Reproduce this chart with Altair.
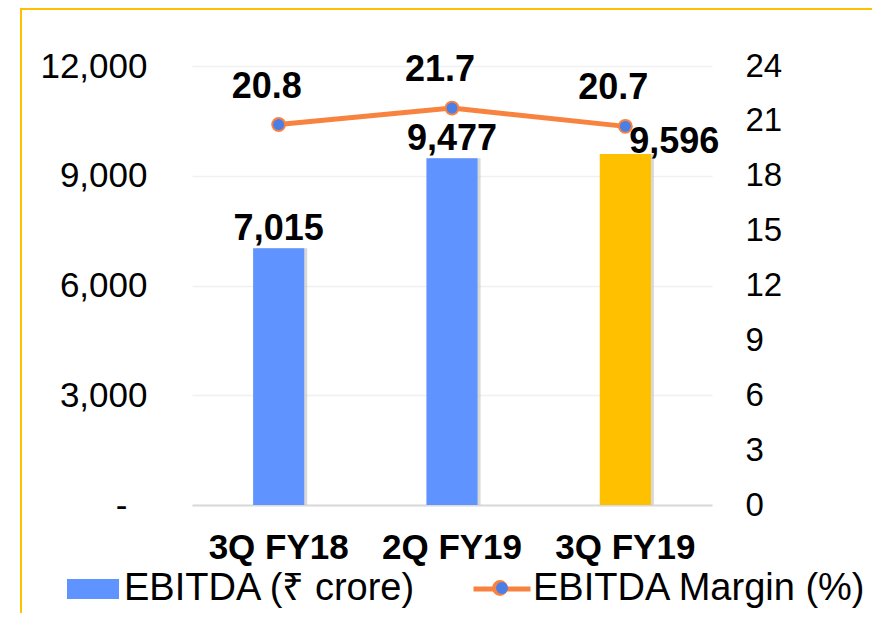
import altair as alt
import pandas as pd

categories = ["3Q FY18", "2Q FY19", "3Q FY19"]
ebitda = [7015, 9477, 9596]
margin = [20.8, 21.7, 20.7]
bar_series_name = "EBITDA (₹ crore)"
line_series_name = "EBITDA Margin (%)"
ring_series_name = "ring"
dot_series_name = "dot"
left_ticks = [0, 3000, 6000, 9000, 12000]
right_ticks = [0, 3, 6, 9, 12, 15, 18, 21, 24]
highlight = "3Q FY19"

BLUE = "#5F93FF"
YELLOW = "#FFC000"
ORANGE = "#F8823F"
DOT = "#4B7EE6"
FONT = "Liberation Sans"

df = pd.DataFrame({"cat": categories, "ebitda": ebitda, "margin": margin})
df["bar_series"] = bar_series_name
df["line_series"] = line_series_name
df["ring_series"] = ring_series_name
df["dot_series"] = dot_series_name

base = alt.Chart(df)

x = alt.X(
    "cat:N",
    sort=categories,
    scale=alt.Scale(paddingInner=0.705, paddingOuter=0.3525),
    axis=alt.Axis(
        title=None, labelAngle=0, labelFont=FONT, labelFontSize=35,
        labelFontWeight="bold", labelColor="black", labelPadding=25,
        ticks=False, domain=True, domainColor="#d9d9d9", domainWidth=2, grid=False,
    ),
)

y_left = alt.Y(
    "ebitda:Q",
    scale=alt.Scale(domain=[0, 12000], nice=False),
    axis=alt.Axis(
        title=None, values=left_ticks, orient="left",
        labelExpr="datum.value == 0 ? '-' : format(datum.value, ',')",
        labelFont=FONT, labelFontSize=35, labelColor="black",
        labelPadding=alt.condition("datum.value == 0", alt.value(65), alt.value(45)),
        ticks=False, domain=False, grid=True, gridColor="#f0f0f0", gridWidth=1.5,
    ),
)

y_right = alt.Y(
    "margin:Q",
    scale=alt.Scale(domain=[0, 24], nice=False),
    axis=alt.Axis(
        title=None, values=right_ticks, orient="right",
        labelFont=FONT, labelFontSize=33, labelColor="black", labelPadding=33,
        ticks=False, domain=False, grid=False,
    ),
)

shadow = base.mark_bar(color="#c8c8c8", opacity=0.7).encode(
    x=x, y=y_left, xOffset=alt.value(3)
)

bars = base.mark_bar().encode(
    x=x,
    y=y_left,
    color=alt.condition(
        f"datum.cat == '{highlight}'",
        alt.value(YELLOW),
        alt.Color(
            "bar_series:N",
            scale=alt.Scale(domain=[bar_series_name], range=[BLUE]),
            legend=alt.Legend(
                title=None, orient="none", legendX=-125, legendY=497,
                symbolType="M-1,-0.38H1V0.38H-1Z", symbolSize=2704,
                symbolStrokeWidth=0, labelFont=FONT, labelFontSize=38,
                labelColor="black", labelOffset=5, labelLimit=0, padding=0,
            ),
        ),
    ),
)

lab_bars = base.transform_filter(f"datum.cat != '{highlight}'").mark_text(
    font=FONT, fontSize=36, fontWeight="bold", baseline="alphabetic", dy=-8, color="black"
).encode(x=x, y=y_left, text=alt.Text("ebitda:Q", format=","))

lab_hi = base.transform_filter(f"datum.cat == '{highlight}'").mark_text(
    font=FONT, fontSize=36, fontWeight="bold", baseline="alphabetic", dx=49, dy=-1, color="black"
).encode(x=x, y=y_left, text=alt.Text("ebitda:Q", format=","))

line = base.mark_line(strokeWidth=5).encode(
    x=x,
    y=y_right,
    stroke=alt.Stroke(
        "line_series:N",
        scale=alt.Scale(domain=[line_series_name], range=[ORANGE]),
        legend=alt.Legend(
            title=None, orient="none", legendX=279, legendY=492,
            symbolType="stroke", symbolSize=3249, symbolStrokeWidth=5,
            labelFont=FONT, labelFontSize=38, labelColor="black",
            labelOffset=0, labelLimit=0, padding=0,
        ),
    ),
)

rings = base.mark_point(filled=True, size=220, fill=ORANGE, opacity=1).encode(
    x=x,
    y=y_right,
    shape=alt.Shape(
        "ring_series:N",
        scale=alt.Scale(domain=[ring_series_name], range=["circle"]),
        legend=alt.Legend(
            title=None, orient="none", legendX=290, legendY=504,
            symbolSize=250, symbolFillColor=ORANGE, symbolOpacity=1,
            labelFontSize=36, labelExpr="''", padding=0,
        ),
    ),
)

dots = base.mark_point(filled=True, size=120, fill=DOT, opacity=1).encode(
    x=x,
    y=y_right,
    shape=alt.Shape(
        "dot_series:N",
        scale=alt.Scale(domain=[dot_series_name], range=["circle"]),
        legend=alt.Legend(
            title=None, orient="none", legendX=292, legendY=504,
            symbolSize=140, symbolFillColor=DOT, symbolOpacity=1,
            labelFontSize=36, labelExpr="''", padding=0,
        ),
    ),
)

lab_line = base.mark_text(
    font=FONT, fontSize=36, fontWeight="bold", baseline="alphabetic", dx=-12, dy=-27, color="black"
).encode(x=x, y=y_right, text=alt.Text("margin:Q", format=".1f"))

frame_src = pd.DataFrame({"k": [0]})
frame_top = alt.Chart(frame_src).mark_rule(color=YELLOW, strokeWidth=2).encode(
    x=alt.value(-172), x2=alt.value(700), y=alt.value(-57)
)
frame_left = alt.Chart(frame_src).mark_rule(color=YELLOW, strokeWidth=2).encode(
    x=alt.value(-171), y=alt.value(-57), y2=alt.value(560)
)

left_layer = alt.layer(shadow, bars, lab_bars, lab_hi)
right_layer = alt.layer(line, rings, dots, lab_line).resolve_scale(shape="independent")

chart = (
    alt.layer(left_layer, right_layer, frame_top, frame_left)
    .resolve_scale(y="independent")
    .properties(
        width=520,
        height=439,
        autosize=alt.AutoSizeParams(type="none"),
        padding={"left": 184, "top": 58, "right": 160, "bottom": 108},
        background="white",
    )
    .configure_view(stroke=None)
)

chart.save("out.html", embed_options={"renderer": "svg", "actions": False})
